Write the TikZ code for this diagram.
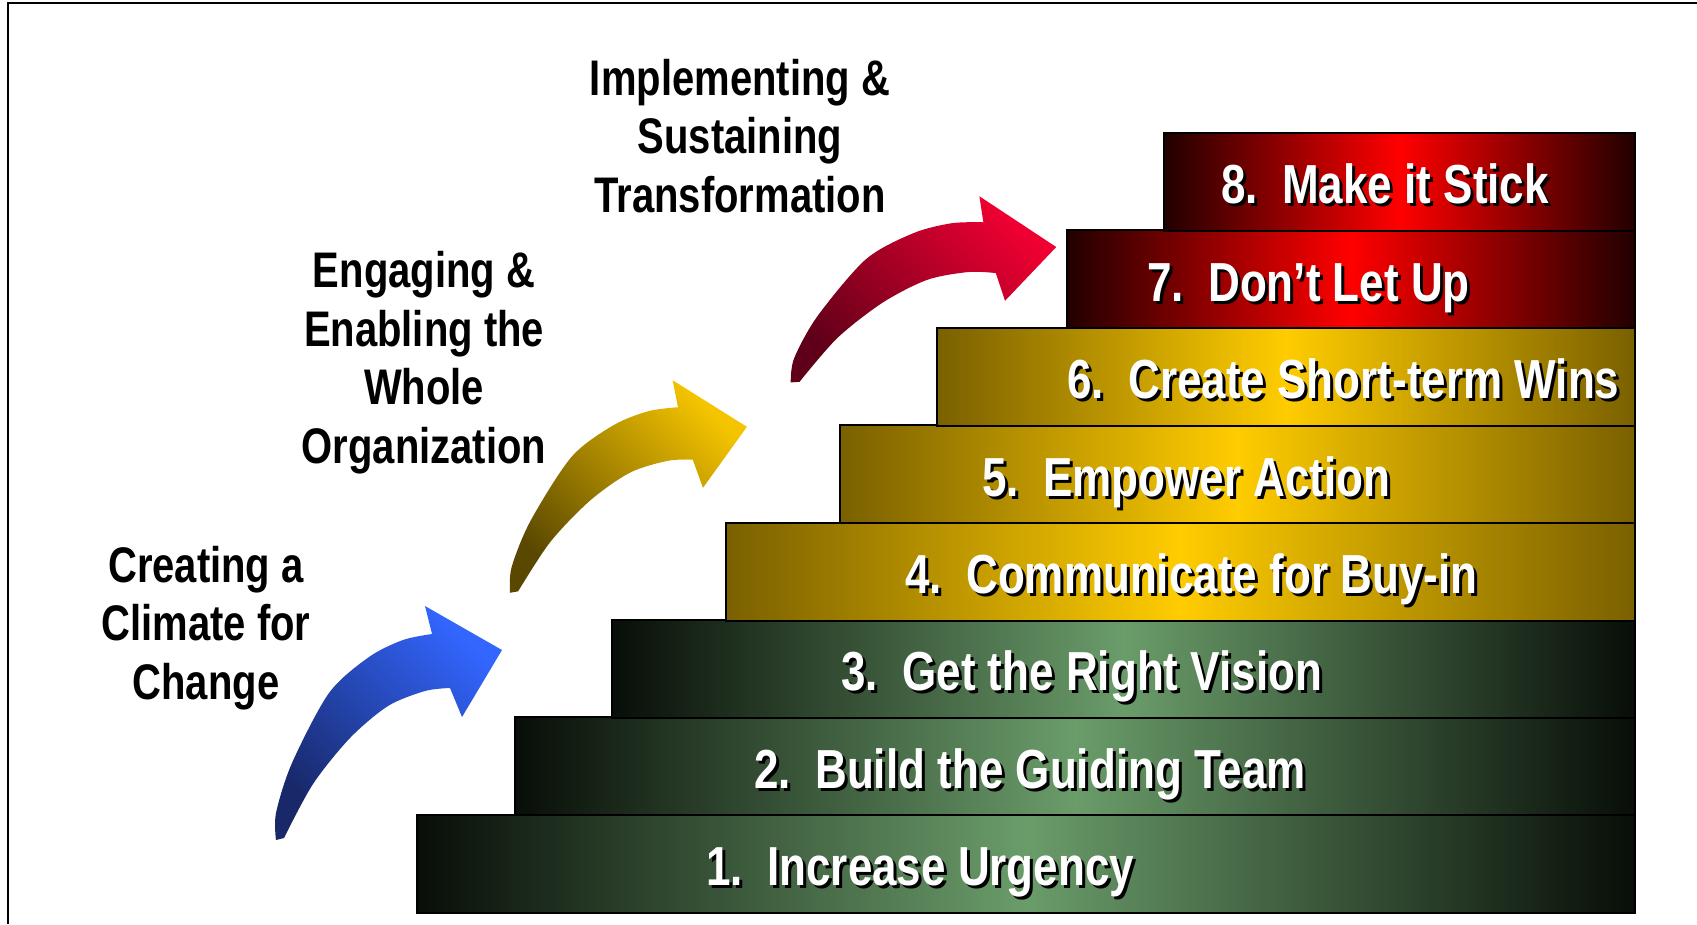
\documentclass[tikz,border=0pt]{standalone}
\usepackage{fontspec}
\setmainfont{Liberation Sans}[FakeStretch=0.8]

\definecolor{greenpeak}{RGB}{106,156,106}
\definecolor{greenend}{RGB}{8,14,8}
\definecolor{goldpeak}{RGB}{255,204,0}
\definecolor{goldend}{RGB}{122,96,0}
\definecolor{redpeak}{RGB}{255,0,0}
\definecolor{redend}{RGB}{34,0,0}
\definecolor{bluetail}{RGB}{24,40,104}
\definecolor{bluehead}{RGB}{51,102,255}
\definecolor{goldtail}{RGB}{90,72,0}
\definecolor{goldhead}{RGB}{245,196,0}
\definecolor{redtail}{RGB}{96,0,24}
\definecolor{redhead}{RGB}{240,0,50}

% white text with a black shadow down and to the right
\newcommand{\dropshadowtext}[1]{\rlap{\kern3pt\raisebox{-3pt}{\textcolor{black}{#1}}}#1}

% curved block arrow: #1 tail, #2 transform, #3 tail colour, #4 head colour
\newcommand{\climbarrow}[4]{%
  \shade[shift={#1},#2,top color=#4,bottom color=#3,shading angle=-45]
    plot[smooth] coordinates {(-4,0) (-4,-27) (12,-77) (49,-147) (89,-183) (123,-200) (152,-206)}
    -- (145,-234) -- (222,-190) -- (182,-123)
    -- plot[smooth] coordinates {(170,-152) (145,-149) (108,-134) (70,-102) (33,-56) (4,-2)}
    -- cycle;}

\begin{document}
\begin{tikzpicture}[x=1pt,y=-1pt,
    stepbox/.style={rectangle,draw=black,line width=2pt,inner sep=0pt,minimum height=97.5pt,anchor=north west},
    greenstep/.style={stepbox,left color=greenend,right color=greenend,middle color=greenpeak},
    goldstep/.style={stepbox,left color=goldend,right color=goldend,middle color=goldpeak},
    redstep/.style={stepbox,left color=redend,right color=redend,middle color=redpeak},
    steplabel/.style={anchor=base west,inner sep=0pt,text=white,font=\bfseries\fontsize{55}{60}\selectfont},
    phase/.style={align=center,anchor=base,inner sep=0pt,font=\bfseries\fontsize{50}{58.5}\selectfont}]
  \useasboundingbox (0,0) rectangle (1697,924);

  % arrows
  \climbarrow{(280,840)}{rotate=0}{bluetail}{bluehead}
  \climbarrow{(514,593)}{rotate=-3.6,yscale=0.95}{goldtail}{goldhead}
  \climbarrow{(795,383)}{rotate=-8,xscale=1.08,yscale=0.9}{redtail}{redhead}

  % the eight steps
  \path
  (416,814)  node[greenstep,minimum width=1218pt] (s1) {}
  (514,716)  node[greenstep,minimum width=1120pt] (s2) {}
  (611,619)  node[greenstep,minimum width=1023pt] (s3) {}
  (725,522)  node[goldstep,minimum width=909pt]   (s4) {}
  (839,424)  node[goldstep,minimum width=795pt]   (s5) {}
  (936,327)  node[goldstep,minimum width=698pt]   (s6) {}
  (1066,229) node[redstep,minimum width=568pt]    (s7) {}
  (1163,132) node[redstep,minimum width=471pt]    (s8) {};

  \path
  (706,885)  node[steplabel] (l1) {\dropshadowtext{1.\ \ Increase Urgency}}
  (754,788)  node[steplabel] (l2) {\dropshadowtext{2.\ \ Build the Guiding Team}}
  (841,690)  node[steplabel] (l3) {\dropshadowtext{3.\ \ Get the Right Vision}}
  (905,593)  node[steplabel] (l4) {\dropshadowtext{4.\ \ Communicate for Buy-in}}
  (982,496)  node[steplabel] (l5) {\dropshadowtext{5.\ \ Empower Action}}
  (1067,398) node[steplabel] (l6) {\dropshadowtext{6.\ \ Create Short-term Wins}}
  (1147,301) node[steplabel] (l7) {\dropshadowtext{7.\ \ Don’t Let Up}}
  (1221,203) node[steplabel] (l8) {\dropshadowtext{8.\ \ Make it Stick}};

  % the three phases (anchored at the last line)
  \node[phase] (climate) at (206,699) {Creating a\\Climate for\\Change};
  \node[phase] (engage) at (424,463) {Engaging \&\\Enabling the\\Whole\\Organization};
  \node[phase] (sustain) at (740,212) {Implementing \&\\Sustaining\\Transformation};

  % frame
  \draw[line width=2.5pt] (8,924) -- (8,3) -- (1697,3);
\end{tikzpicture}
\end{document}
